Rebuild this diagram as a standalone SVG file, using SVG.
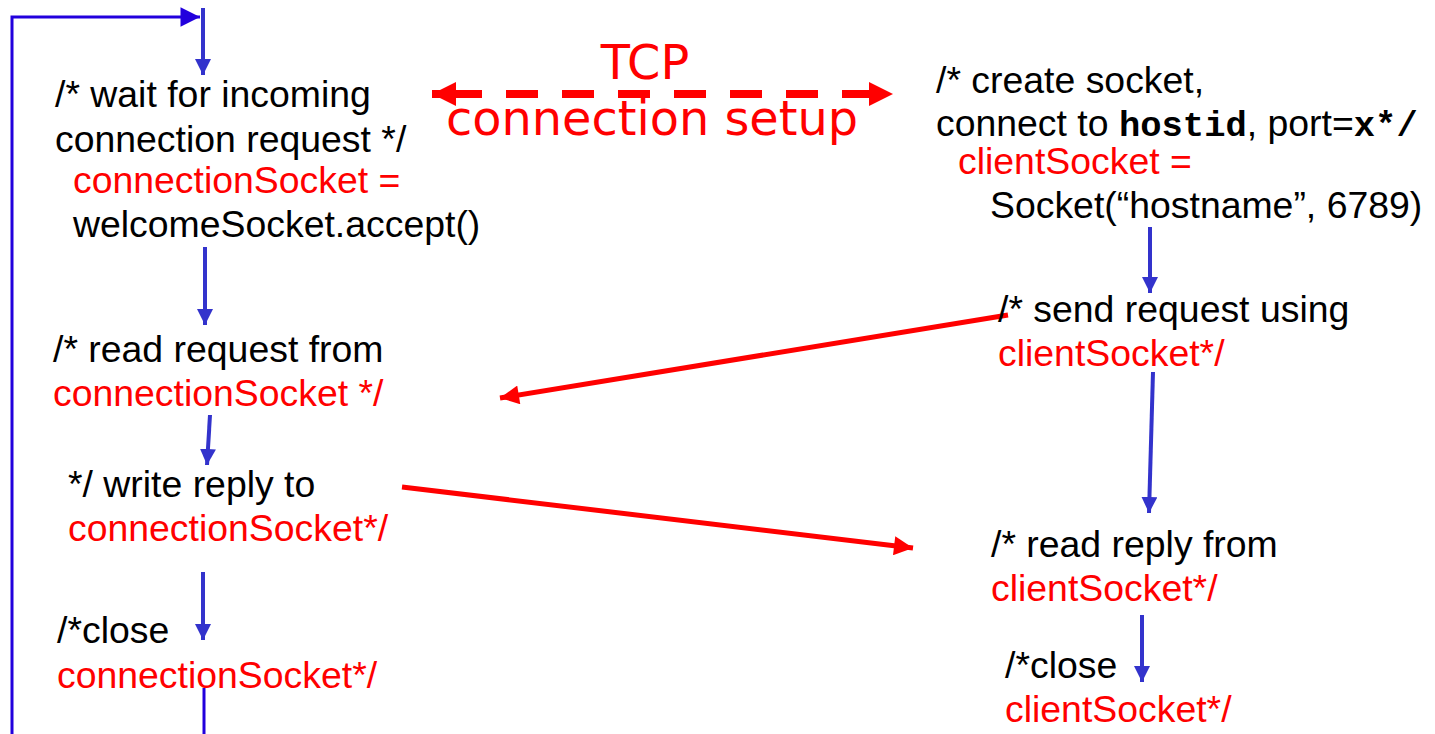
<svg xmlns="http://www.w3.org/2000/svg" width="1435" height="734" viewBox="0 0 1435 734">
<style>
text{font-family:"Liberation Sans",Arial,sans-serif;font-size:37.4px;fill:#000}
.r{fill:#ff0000}
.m{font-family:"Liberation Mono","Courier New",monospace;font-weight:bold;font-size:35.5px}
.tcp{font-family:"DejaVu Sans",sans-serif;font-size:47.8px;fill:#ff0000;text-anchor:middle}
.bl{stroke:#3333cc;stroke-width:4;fill:none}
.rd{stroke:#ff0000;stroke-width:5;fill:none}
</style>
<defs>
<marker id="ab" viewBox="0 0 10 10" refX="10" refY="5" markerWidth="4" markerHeight="4" orient="auto" markerUnits="strokeWidth"><path d="M0,0L10,5L0,10z" fill="#3333cc"/></marker>
<marker id="ar" viewBox="0 0 10 10" refX="10" refY="5" markerWidth="4.2" markerHeight="3.8" orient="auto" markerUnits="strokeWidth"><path d="M0,0L10,5L0,10z" fill="#ff0000"/></marker>
<marker id="at" viewBox="0 0 10 10" refX="10" refY="5" markerWidth="3" markerHeight="3" orient="auto-start-reverse" markerUnits="strokeWidth"><path d="M0,0L10,5L0,10z" fill="#ff0000"/></marker>
<marker id="al" viewBox="0 0 10 10" refX="10" refY="5" markerWidth="10" markerHeight="6.5" orient="auto" markerUnits="strokeWidth"><path d="M0,0L10,5L0,10z" fill="#2200dd"/></marker>
</defs>
<g id="connectors">
<path d="M12,734V17H200" stroke="#2200dd" stroke-width="3" fill="none" marker-end="url(#al)"/>
<line x1="204" y1="688" x2="204" y2="734" stroke="#2200dd" stroke-width="3"/>
<line class="bl" x1="203" y1="8" x2="203" y2="75" marker-end="url(#ab)"/>
<line class="bl" x1="205" y1="247" x2="205" y2="325" marker-end="url(#ab)"/>
<line class="bl" x1="210" y1="415" x2="207" y2="465" marker-end="url(#ab)"/>
<line class="bl" x1="203" y1="572" x2="203" y2="640" marker-end="url(#ab)"/>
<line class="bl" x1="1150" y1="227" x2="1150" y2="293" marker-end="url(#ab)"/>
<line class="bl" x1="1153" y1="372" x2="1149" y2="513" marker-end="url(#ab)"/>
<line class="bl" x1="1142" y1="615" x2="1142" y2="682" marker-end="url(#ab)"/>
<line class="rd" x1="1008" y1="315" x2="500" y2="398" marker-end="url(#ar)"/>
<line class="rd" x1="402" y1="487" x2="913" y2="548" marker-end="url(#ar)"/>
<line x1="432" y1="94" x2="893" y2="94" stroke="#ff0000" stroke-width="8" stroke-dasharray="50 24 32 24 32 24 32 24 32 24 32 24 32 24 32 24 60" marker-start="url(#at)" marker-end="url(#at)"/>
</g>
<g id="tcp">
<text class="tcp" x="645" y="79">TCP</text>
<text class="tcp" x="652" y="135">connection setup</text>
</g>
<g id="server-wait">
<text x="55" y="107">/* wait for incoming</text>
<text x="55" y="152">connection request */</text>
<text class="r" x="73" y="193">connectionSocket =</text>
<text x="73" y="237">welcomeSocket.accept()</text>
</g>
<g id="server-read">
<text x="53" y="362">/* read request from</text>
<text class="r" x="53" y="406">connectionSocket */</text>
</g>
<g id="server-write">
<text x="68" y="497">*/ write reply to</text>
<text class="r" x="68" y="541">connectionSocket*/</text>
</g>
<g id="server-close">
<text x="57" y="643">/*close</text>
<text class="r" x="57" y="688">connectionSocket*/</text>
</g>
<g id="client-create">
<text x="936" y="93">/* create socket,</text>
<text x="936" y="136">connect to <tspan class="m">hostid</tspan>, port=<tspan class="m">x*/</tspan></text>
<text class="r" x="958" y="174">clientSocket =</text>
<text x="990" y="218">Socket(“hostname”, 6789)</text>
</g>
<g id="client-send">
<text x="998" y="322">/* send request using</text>
<text class="r" x="998" y="366">clientSocket*/</text>
</g>
<g id="client-read">
<text x="991" y="557">/* read reply from</text>
<text class="r" x="991" y="601">clientSocket*/</text>
</g>
<g id="client-close">
<text x="1005" y="678">/*close</text>
<text class="r" x="1005" y="722">clientSocket*/</text>
</g>
</svg>
